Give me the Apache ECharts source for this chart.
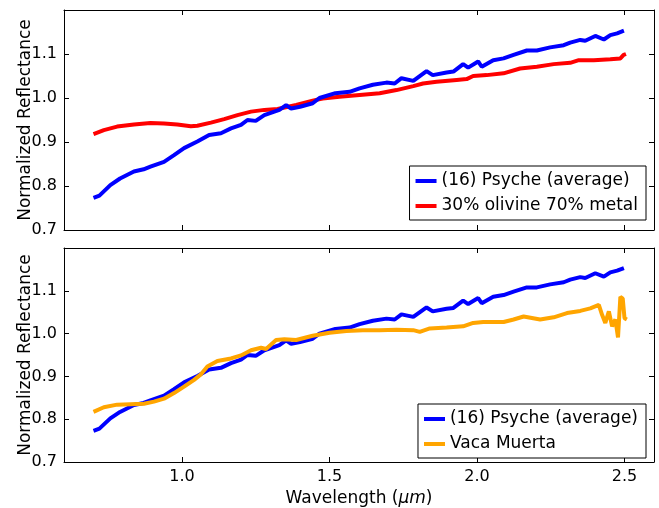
<!DOCTYPE html>
<html>
<head>
<meta charset="utf-8">
<script src="https://cdn.jsdelivr.net/npm/echarts@6/dist/echarts.min.js"></script>
<style>
  html, body { margin: 0; padding: 0; background: #fff; }
  #chart { width: 659px; height: 508px; }
</style>
</head>
<body>
<div id="chart"></div>
<script>
// wavelength (um) / normalized reflectance
var psycheWl = [0.70, 0.72, 0.757, 0.79, 0.837, 0.87, 0.893, 0.939, 0.973, 1.007, 1.052, 1.092, 1.132, 1.166, 1.20, 1.222, 1.25, 1.279, 1.313, 1.33, 1.353, 1.37, 1.40, 1.443, 1.466, 1.52, 1.568, 1.602, 1.647, 1.693, 1.721, 1.744, 1.784, 1.829, 1.85, 1.897, 1.92, 1.953, 1.97, 2.004, 2.016, 2.055, 2.09, 2.124, 2.169, 2.203, 2.248, 2.294, 2.316, 2.35, 2.367, 2.401, 2.43, 2.452, 2.475, 2.498];
var psycheRefl = [0.773, 0.778, 0.802, 0.817, 0.833, 0.838, 0.844, 0.855, 0.870, 0.886, 0.901, 0.916, 0.920, 0.931, 0.939, 0.950, 0.948, 0.961, 0.969, 0.973, 0.984, 0.976, 0.980, 0.988, 1.000, 1.011, 1.014, 1.022, 1.030, 1.035, 1.033, 1.045, 1.039, 1.061, 1.052, 1.058, 1.060, 1.077, 1.069, 1.083, 1.071, 1.086, 1.090, 1.098, 1.108, 1.108, 1.115, 1.120, 1.126, 1.132, 1.130, 1.141, 1.133, 1.143, 1.147, 1.153];

var mixWl = [0.70, 0.735, 0.78, 0.837, 0.893, 0.939, 0.984, 1.03, 1.052, 1.098, 1.143, 1.188, 1.234, 1.279, 1.324, 1.387, 1.443, 1.477, 1.534, 1.602, 1.67, 1.727, 1.784, 1.817, 1.863, 1.931, 1.965, 1.987, 2.033, 2.09, 2.146, 2.203, 2.26, 2.316, 2.345, 2.396, 2.452, 2.486, 2.497, 2.505];
var mixRefl = [0.918, 0.927, 0.935, 0.940, 0.943, 0.942, 0.940, 0.936, 0.937, 0.944, 0.952, 0.961, 0.969, 0.973, 0.975, 0.984, 0.994, 0.999, 1.003, 1.007, 1.011, 1.018, 1.027, 1.033, 1.037, 1.041, 1.043, 1.050, 1.052, 1.056, 1.067, 1.071, 1.077, 1.080, 1.086, 1.086, 1.088, 1.090, 1.098, 1.100];

var vacaWl = [0.70, 0.735, 0.78, 0.825, 0.871, 0.905, 0.939, 0.973, 1.007, 1.041, 1.063, 1.086, 1.12, 1.166, 1.20, 1.234, 1.268, 1.285, 1.319, 1.347, 1.387, 1.443, 1.50, 1.557, 1.613, 1.67, 1.727, 1.784, 1.806, 1.84, 1.897, 1.953, 1.987, 2.021, 2.09, 2.124, 2.158, 2.214, 2.26, 2.305, 2.35, 2.384, 2.413, 2.424, 2.435, 2.447, 2.458, 2.469, 2.478, 2.486, 2.494, 2.50, 2.508];
var vacaRefl = [0.817, 0.828, 0.834, 0.835, 0.836, 0.841, 0.848, 0.861, 0.876, 0.892, 0.904, 0.923, 0.936, 0.942, 0.949, 0.961, 0.967, 0.964, 0.985, 0.987, 0.985, 0.995, 1.002, 1.006, 1.008, 1.008, 1.009, 1.008, 1.004, 1.012, 1.014, 1.017, 1.025, 1.027, 1.027, 1.033, 1.040, 1.033, 1.038, 1.048, 1.053, 1.059, 1.067, 1.044, 1.025, 1.052, 1.017, 1.033, 0.991, 1.086, 1.082, 1.036, 1.033];

var xTicks = [1.0, 1.5, 2.0, 2.5];
var yTicks = [0.7, 0.8, 0.9, 1.0, 1.1];

var seriesNames = ['(16) Psyche (average)', '30% olivine 70% metal', 'Vaca Muerta'];

function pairs(xs, ys) {
  return xs.map(function(x, i) { return [x, ys[i]]; });
}

var FONT = 'DejaVu Sans';

function xAxisFor(gridIndex, pos, labels, name) {
  var ax = {
    type: 'value', gridIndex: gridIndex, position: pos,
    min: 0.6, max: 2.6,
    axisLine: { show: true, onZero: false, lineStyle: { color: '#000', width: 1 } },
    axisTick: { show: true, inside: true, length: 5, customValues: xTicks, lineStyle: { color: '#000' } },
    axisLabel: { show: labels, customValues: xTicks, margin: 7, color: '#000', fontFamily: FONT, fontSize: 16,
      formatter: function(v) { return v.toFixed(1); } },
    splitLine: { show: false }
  };
  if (name) {
    ax.name = '{n|Wavelength (}{i|μm}{n|)}';
    ax.nameLocation = 'middle';
    ax.nameGap = 28;
    ax.nameTextStyle = { rich: {
      n: { fontFamily: FONT, fontSize: 17, color: '#000' },
      i: { fontFamily: FONT, fontSize: 17, fontStyle: 'italic', color: '#000' }
    } };
  }
  return ax;
}

function yAxisFor(gridIndex, pos, labels) {
  var ax = {
    type: 'value', gridIndex: gridIndex, position: pos,
    min: 0.7, max: 1.2,
    axisLine: { show: true, onZero: false, lineStyle: { color: '#000', width: 1 } },
    axisTick: { show: true, inside: true, length: 5, customValues: yTicks, lineStyle: { color: '#000' } },
    axisLabel: { show: labels, customValues: yTicks, margin: 7, color: '#000', fontFamily: FONT, fontSize: 16,
      formatter: function(v) { return v.toFixed(1); } },
    splitLine: { show: false }
  };
  if (labels) {
    ax.name = 'Normalized Reflectance';
    ax.nameLocation = 'middle';
    ax.nameRotate = 90;
    ax.nameGap = 30;
    ax.nameMoveOverlap = false;
    ax.nameTextStyle = { fontFamily: FONT, fontSize: 17, color: '#000' };
  }
  return ax;
}

function lineSeries(name, color, xi, yi, data) {
  return {
    name: name, type: 'line', xAxisIndex: xi, yAxisIndex: yi,
    data: data, showSymbol: false, symbol: 'none', color: color,
    lineStyle: { color: color, width: 4 }, z: 3
  };
}

function legendFor(names, bottom) {
  return {
    data: names, orient: 'vertical', right: 13, bottom: bottom,
    icon: 'rect', itemWidth: 21, itemHeight: 4, itemGap: 5,
    padding: [5, 8, 4, 6],
    borderColor: '#000', borderWidth: 1, borderRadius: 0, backgroundColor: '#fff',
    textStyle: { fontFamily: FONT, fontSize: 17, color: '#000', lineHeight: 20 },
    selectedMode: false
  };
}

var chart = echarts.init(document.getElementById('chart'));

var option = {
  animation: false,
  backgroundColor: '#fff',
  grid: [
    { left: 64, right: 5, top: 10, height: 220 },
    { left: 64, right: 5, top: 248, height: 219 }
  ],
  xAxis: [
    xAxisFor(0, 'bottom', false, false),
    xAxisFor(0, 'top', false, false),
    xAxisFor(1, 'bottom', true, true),
    xAxisFor(1, 'top', false, false)
  ],
  yAxis: [
    yAxisFor(0, 'left', true),
    yAxisFor(0, 'right', false),
    yAxisFor(1, 'left', true),
    yAxisFor(1, 'right', false)
  ],
  legend: [
    legendFor([seriesNames[0], seriesNames[1]], 288),
    legendFor([seriesNames[0], seriesNames[2]], 50)
  ],
  series: [
    lineSeries(seriesNames[1], '#ff0000', 0, 0, pairs(mixWl, mixRefl)),
    lineSeries(seriesNames[0], '#0000ff', 0, 0, pairs(psycheWl, psycheRefl)),
    lineSeries(seriesNames[0], '#0000ff', 2, 2, pairs(psycheWl, psycheRefl)),
    lineSeries(seriesNames[2], '#ffa500', 2, 2, pairs(vacaWl, vacaRefl))
  ]
};

chart.setOption(option);
</script>
</body>
</html>
